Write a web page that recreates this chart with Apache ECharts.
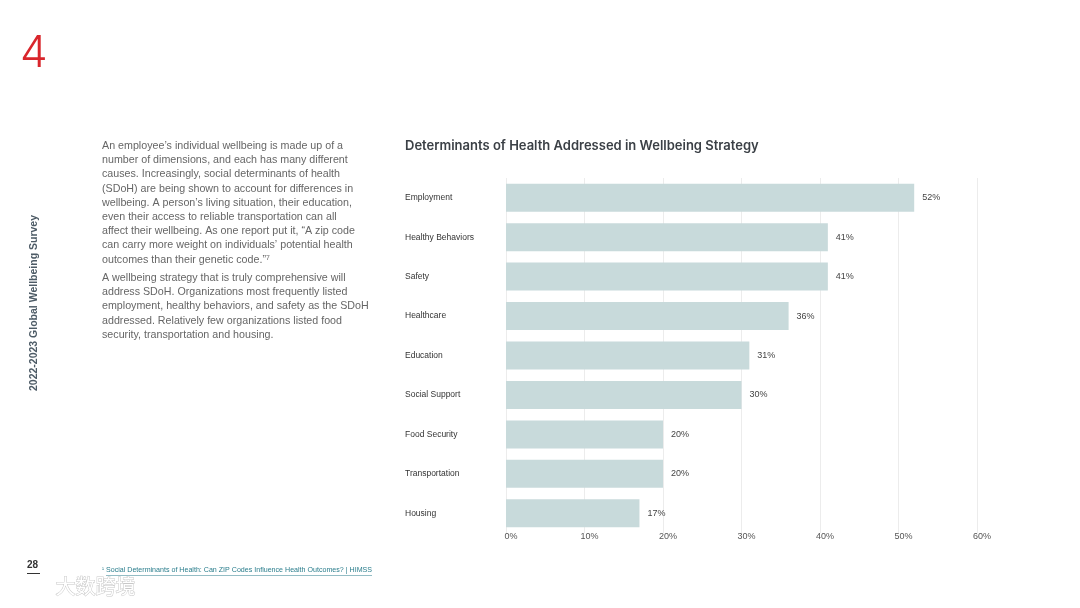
<!DOCTYPE html>
<html><head><meta charset="utf-8">
<script src="https://cdn.jsdelivr.net/npm/echarts@6/dist/echarts.min.js"></script>
<style>html,body{margin:0;padding:0;background:#fff}#c{width:1080px;height:608px}</style>
</head><body><div id="c"></div>
<script>
const categories = ['Employment','Healthy Behaviors','Safety','Healthcare','Education','Social Support','Food Security','Transportation','Housing'];
const values = [52,41,41,36,31,30,20,20,17];
const xMax = 60;
const xInterval = 10;
const titleText = 'Determinants of Health Addressed in Wellbeing Strategy';
const para1 = [
 'An employee\u2019s individual wellbeing is made up of a',
 'number of dimensions, and each has many different',
 'causes. Increasingly, social determinants of health',
 '(SDoH) are being shown to account for differences in',
 'wellbeing. A person\u2019s living situation, their education,',
 'even their access to reliable transportation can all',
 'affect their wellbeing. As one report put it, \u201cA zip code',
 'can carry more weight on individuals\u2019 potential health',
 'outcomes than their genetic code.\u201d\u2077'
];
const para2 = [
 'A wellbeing strategy that is truly comprehensive will',
 'address SDoH. Organizations most frequently listed',
 'employment, healthy behaviors, and safety as the SDoH',
 'addressed. Relatively few organizations listed food',
 'security, transportation and housing.'
];
const FONT = 'Liberation Sans, Arial, sans-serif';
const chart = echarts.init(document.getElementById('c'));
chart.setOption({
  animation:false,
  backgroundColor:'#fff',
  grid:{left:506,right:103,top:178,bottom:75,containLabel:false},
  xAxis:{type:'value',min:0,max:xMax,interval:xInterval,
    axisLine:{show:false},axisTick:{show:false},
    splitLine:{show:true,lineStyle:{color:'#ececec',width:1}},
    axisLabel:{formatter:'{value}%',color:'#555',fontSize:9,fontFamily:FONT,align:'center',padding:[0,0,0,10],margin:-1}},
  yAxis:{type:'category',data:categories,inverse:true,
    axisLine:{show:false},axisTick:{show:false},
    axisLabel:{color:'#333',fontSize:8.5,fontFamily:FONT,align:'left',margin:101}},
  series:[{type:'bar',data:values,barCategoryGap:'29%',
    itemStyle:{color:'#c8dadb'},
    label:{show:true,position:'right',distance:8,formatter:'{c}%',color:'#444',fontSize:9,fontFamily:FONT}}],
  graphic:[
    {type:'text',left:20,top:32,style:{text:'4',fill:'#d9262c',font:'300 44px Inter, sans-serif'}},
    {type:'text',left:405,top:140,style:{text:titleText,fill:'#3b4046',font:'600 13px Inter, sans-serif'}},
    {type:'text',left:102,top:139,style:{text:para1.join('\n'),fill:'#666',font:'10.7px '+FONT,lineHeight:14.2}},
    {type:'text',left:102,top:271,style:{text:para2.join('\n'),fill:'#666',font:'10.7px '+FONT,lineHeight:14.2}},
    {type:'text',x:34,y:303,rotation:Math.PI/2,style:{text:'2022-2023 Global Wellbeing Survey',fill:'#4d5b66',font:'bold 10.5px '+FONT,align:'center',verticalAlign:'middle'}},
    {type:'text',left:27,top:560,style:{text:'28',fill:'#333',font:'bold 10px '+FONT}},
    {type:'rect',shape:{x:27,y:573,width:13,height:1},style:{fill:'#333'}},
    {type:'text',left:102,top:566,style:{text:'\u00b9',fill:'#2a7d8c',font:'6px '+FONT}},
    {type:'text',left:106,top:567,style:{text:'Social Determinants of Health: Can ZIP Codes Influence Health Outcomes? | HIMSS',fill:'#2a7d8c',font:'7.1px '+FONT}},
    {type:'rect',shape:{x:106,y:575.5,width:266,height:0.6},style:{fill:'#2a7d8c'}},
    {type:'text',left:55,top:576,style:{text:'\u5927\u6570\u8de8\u5883',fill:'#fff',stroke:'#c8c8c8',lineWidth:1,font:'20px "Noto Sans CJK SC", sans-serif'}}
  ]
});
</script></body></html>
